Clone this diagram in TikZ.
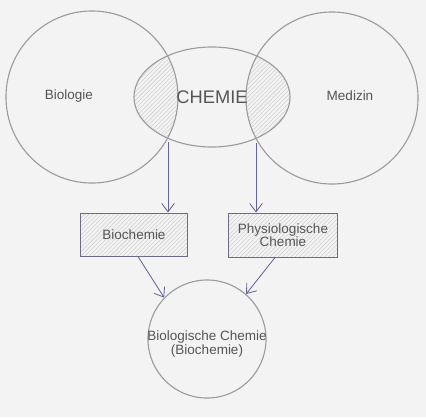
\documentclass[tikz,border=0pt]{standalone}
\usepackage{fontspec}
\setmainfont{Liberation Sans}
\usepackage{tikz}
\usetikzlibrary{positioning,arrows.meta,shapes.geometric,patterns}
\definecolor{paperGray}{HTML}{F3F3F3}
\definecolor{ringGray}{HTML}{9C9C9C}
\definecolor{inkGray}{HTML}{555555}
\definecolor{arrowBlue}{HTML}{64649A}
\definecolor{boxEdge}{HTML}{6C6C88}

\tikzset{
  field/.style={circle, draw=ringGray, line width=0.8pt, minimum size=4.3cm, inner sep=0pt},
  lbl/.style={text=inkGray, font=\fontsize{9.6}{11.5}\selectfont, align=center},
  topic/.style={rectangle, draw=boxEdge, line width=0.7pt, pattern=north east lines,
    pattern color=gray!35, inner sep=0pt},
  link/.style={arrowBlue, line width=0.6pt, -{Straight Barb[length=6pt,width=9pt]}}
}

\begin{document}
\begin{tikzpicture}[x=0.025cm, y=-0.025cm]
  \fill[paperGray] (0,0) rectangle (426,417);
  \useasboundingbox (0,0) rectangle (426,417);

  % overlap of the three fields
  \begin{scope}
    \clip (212,97) ellipse [x radius=78, y radius=50];
    \fill[pattern=north east lines, pattern color=gray!35] (92,97) circle [radius=86];
    \fill[pattern=north east lines, pattern color=gray!35] (332,98) circle [radius=86];
  \end{scope}

  \node[field] (bio) at (92,97) {};
  \node[field] (med) at (332,98) {};
  \node[ellipse, draw=ringGray, line width=0.8pt, minimum width=3.9cm, minimum height=2.5cm,
    inner sep=0pt] (chem) at (212,97) {};
  \node[lbl] (biolbl) at (69,96) {Biologie};
  \node[lbl] (medlbl) at (350,96) {Medizin};
  \node[lbl, font=\fontsize{13}{15}\selectfont] (chemlbl) at (212,97) {CHEMIE};

  \coordinate (s1) at (168,142);
  \coordinate (s2) at (256,143);

  \node[topic, minimum width=2.65cm, minimum height=1.075cm] (bioc) at (134,234.5) {};
  \node[lbl] (bioclbl) at (bioc) {Biochemie};
  \node[topic, minimum width=2.7cm, minimum height=1.1cm] (phys) at (283,235) {};
  \node[lbl] (physlbl) at (phys) {Physiologische\\[-2pt]Chemie};

  \node[circle, draw=ringGray, line width=0.8pt, minimum size=2.95cm, inner sep=0pt] (bib) at (207,339) {};
  \node[lbl] (biblbl) at (207,344) {Biologische Chemie\\[-1pt](Biochemie)};

  \draw[link] (s1) -- (s1 |- bioc.north);
  \draw[link] (s2) -- (s2 |- phys.north);
  \draw[link] ([xshift=4*0.025cm]bioc.south) -- (bib.136);
  \draw[link] ([xshift=-8*0.025cm]phys.south) -- (bib.49);
\end{tikzpicture}
\end{document}
